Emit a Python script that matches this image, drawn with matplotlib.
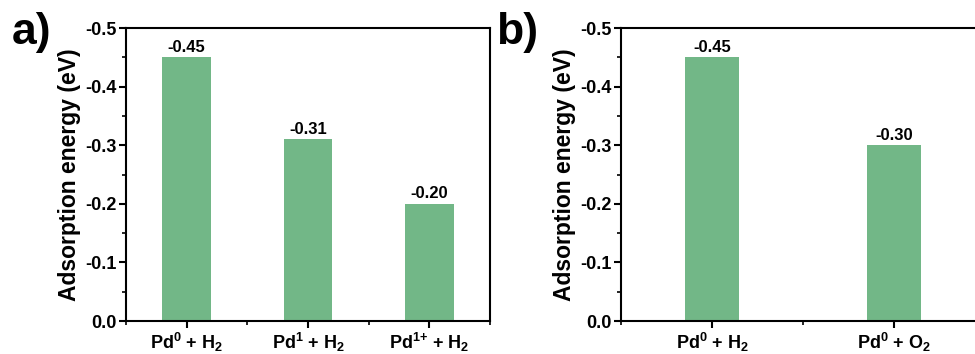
import matplotlib
matplotlib.use("Agg")
import matplotlib.pyplot as plt
from matplotlib.ticker import MultipleLocator, FormatStrFormatter

plt.rcParams['font.family'] = ['Liberation Sans', 'DejaVu Sans']
plt.rcParams['font.weight'] = 'bold'
plt.rcParams['axes.unicode_minus'] = False
plt.rcParams['mathtext.fontset'] = 'custom'
plt.rcParams['mathtext.rm'] = 'Liberation Sans:bold'
plt.rcParams['mathtext.bf'] = 'Liberation Sans:bold'
plt.rcParams['mathtext.default'] = 'bf'

# adsorption energies (eV)
labels_a = [r'Pd$^0$ + H$_2$', r'Pd$^1$ + H$_2$', r'Pd$^{1{+}}$ + H$_2$']
energy_a = [-0.45, -0.31, -0.20]

labels_b = [r'Pd$^0$ + H$_2$', r'Pd$^0$ + O$_2$']
energy_b = [-0.45, -0.30]

bar_color = '#72b787'

fig = plt.figure(figsize=(9.75, 3.54), dpi=100)
ax_a = fig.add_axes([0.1292, 0.0932, 0.3735, 0.8277])
ax_b = fig.add_axes([0.6369, 0.0932, 0.3735, 0.8277])


def draw_panel(ax, labels, values, width):
    x = list(range(len(values)))
    ax.bar(x, values, width=width, color=bar_color)
    for xi, v in zip(x, values):
        ax.text(xi, v - 0.004, '%.2f' % v, ha='center', va='bottom',
                fontsize=12, fontweight='bold')
    ax.set_xlim(-0.5, len(values) - 0.5)
    ax.set_ylim(0, -0.5)
    ax.set_xticks(x)
    ax.set_xticklabels(labels, fontsize=13)
    ax.xaxis.set_minor_locator(MultipleLocator(1, offset=0.5))
    ax.yaxis.set_major_locator(MultipleLocator(0.1))
    ax.yaxis.set_minor_locator(MultipleLocator(0.05))
    ax.yaxis.set_major_formatter(FormatStrFormatter('%.1f'))
    ax.tick_params(axis='both', which='major', direction='out', length=5,
                   width=1.5, labelsize=13, pad=2)
    ax.tick_params(axis='both', which='minor', direction='out', length=3,
                   width=1.2)
    for lbl in ax.get_yticklabels() + ax.get_xticklabels():
        lbl.set_fontweight('bold')
    for s in ax.spines.values():
        s.set_linewidth(1.5)
    ax.set_ylabel('Adsorption energy (eV)', fontsize=16.5, fontweight='bold',
                  labelpad=3)


draw_panel(ax_a, labels_a, energy_a, 0.4)
draw_panel(ax_b, labels_b, energy_b, 0.3)

fig.text(12 / 975, 1 - 12 / 354, 'a)', fontsize=32, fontweight='bold',
         va='top', ha='left')
fig.text(496 / 975, 1 - 12 / 354, 'b)', fontsize=32, fontweight='bold',
         va='top', ha='left')

fig.savefig('out.png', dpi=100)
